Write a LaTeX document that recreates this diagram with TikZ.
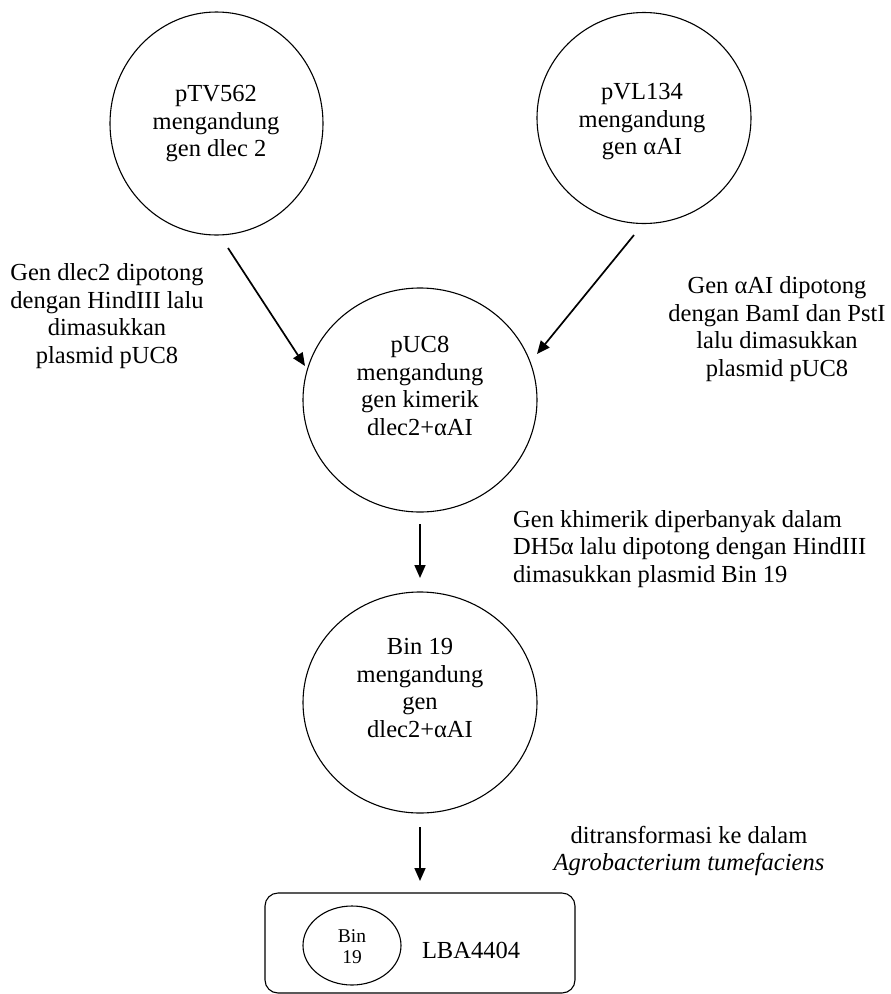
\documentclass[tikz,border=0pt]{standalone}
\usepackage{fontspec}
\setmainfont{Liberation Serif}
\usetikzlibrary{arrows.meta,shapes.geometric}
\begin{document}
\begin{tikzpicture}[x=1pt,y=-1pt,
  txt/.style={align=center,inner sep=0pt,font=\fontsize{24.5}{27.5}\selectfont},
  small/.style={align=center,inner sep=0pt,font=\fontsize{19.5}{21}\selectfont},
  oval/.style={draw,line width=1.1pt,ellipse,inner sep=0pt},
  flow/.style={line width=1.7pt,-{Triangle[length=13pt,width=11pt]}},
  box/.style={draw,line width=1.1pt,rounded corners=13pt}]
\useasboundingbox (0,0) rectangle (891,994);

% circles
\node[oval,minimum width=213pt,minimum height=223pt] (ptv) at (216.5,123.5) {};
\node[oval,minimum width=214pt,minimum height=211pt] (pvl) at (644,118) {};
\node[oval,minimum width=234pt,minimum height=224pt] (puc) at (420,400) {};
\node[oval,minimum width=234pt,minimum height=221pt] (bin) at (420,702.5) {};

% circle texts
\node[txt] (ptvT) at (216,124) {pTV562\\mengandung\\gen dlec 2};
\node[txt] (pvlT) at (642,122) {pVL134\\mengandung\\gen αAI};
\node[txt] (pucT) at (420,386) {pUC8\\mengandung\\gen kimerik\\dlec2+αAI};
\node[txt] (binT) at (420,688) {Bin 19\\mengandung\\gen\\dlec2+αAI};

% side labels
\node[txt] (lblL) at (107,316) {Gen dlec2 dipotong\\dengan HindIII lalu\\dimasukkan\\plasmid pUC8};
\node[txt] (lblR) at (777,329) {Gen αAI dipotong\\dengan BamI dan PstI\\lalu dimasukkan\\plasmid pUC8};
\node[txt,align=left,anchor=west] (lblK) at (513,549) {Gen khimerik diperbanyak dalam\\DH5α lalu dipotong dengan HindIII\\dimasukkan plasmid Bin 19};
\node[txt] (lblT) at (689,851) {ditransformasi ke dalam\\\textit{Agrobacterium tumefaciens}};

% bottom box
\node[box,minimum width=310pt,minimum height=100pt] (lba) at (420,943) {};
\node[draw,line width=1.1pt,ellipse,minimum width=98pt,minimum height=79pt,inner sep=0pt] (inner) at (352,945.5) {};
\node[small] (innerT) at (352,947) {Bin\\19};
\node[txt] (lbaT) at (471,950) {LBA4404};

% arrow end points
\coordinate (a1s) at (228,248);
\coordinate (a1e) at (305,366);
\coordinate (a2s) at (634,235);
\coordinate (a2e) at (537,354);
\coordinate (a3s) at (420,524);
\coordinate (a3e) at (420,578);
\coordinate (a4s) at (420,827);
\coordinate (a4e) at (420,881);

\draw[flow] (a1s) -- (a1e);
\draw[flow] (a2s) -- (a2e);
\draw[flow] (a3s) -- (a3e);
\draw[flow] (a4s) -- (a4e);
\end{tikzpicture}
\end{document}
